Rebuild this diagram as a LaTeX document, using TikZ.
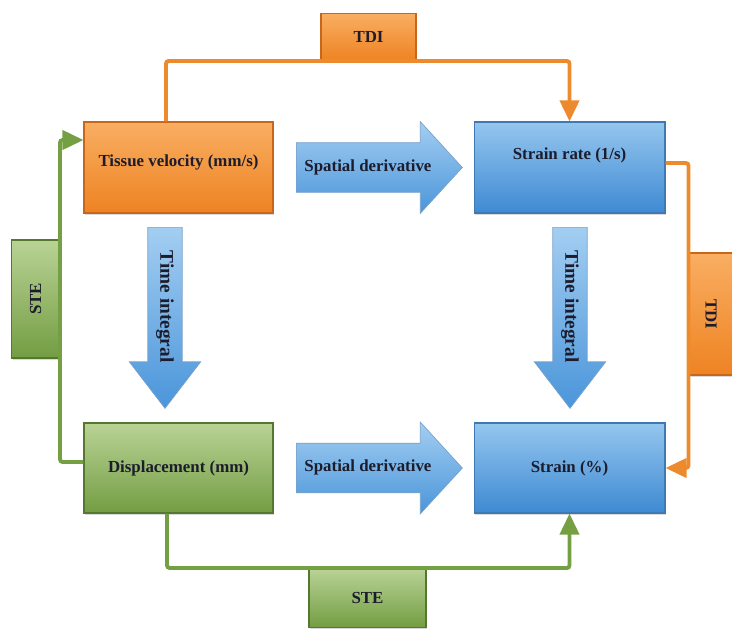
\documentclass[tikz,border=0pt]{standalone}
\usepackage{fontspec}
\setmainfont{Liberation Serif}
\usetikzlibrary{shapes.arrows,shadows,arrows.meta}

\definecolor{orangetop}{HTML}{F9AE62}
\definecolor{orangebot}{HTML}{EE8322}
\definecolor{orangedraw}{HTML}{C8661C}
\definecolor{bluetop}{HTML}{95C6EE}
\definecolor{bluebot}{HTML}{3E8AD3}
\definecolor{bluedraw}{HTML}{3F79B3}
\definecolor{greentop}{HTML}{B9D395}
\definecolor{greenbot}{HTML}{739D43}
\definecolor{greendraw}{HTML}{55772F}
\definecolor{arrowtop}{HTML}{A3CEF2}
\definecolor{arrowbot}{HTML}{4A95DA}
\definecolor{tdiorange}{HTML}{EE8A2E}
\definecolor{stegreen}{HTML}{74A043}
\definecolor{inkdark}{HTML}{1C1C2C}

\tikzset{
  box/.style={draw, line width=0.6pt, minimum width=3.78cm, minimum height=1.82cm, inner sep=2pt,
    drop shadow={shadow xshift=0.8pt, shadow yshift=-1pt, opacity=0.3}},
  orangebox/.style={box, draw=orangedraw, top color=orangetop, bottom color=orangebot},
  bluebox/.style={box, draw=bluedraw, top color=bluetop, bottom color=bluebot},
  greenbox/.style={box, draw=greendraw, top color=greentop, bottom color=greenbot},
  bigarrow/.style={single arrow, draw=bluedraw!70, line width=0.4pt, top color=arrowtop, bottom color=arrowbot,
    text height=6.5pt, text depth=2pt, inner xsep=2pt},
  downarrow/.style={bigarrow, rotate=-90, anchor=tail, minimum height=3.62cm,
    text height=7.8pt, text depth=2.6pt, inner ysep=4.4pt,
    single arrow head extend=0.37cm, single arrow tip angle=75, font=\fontsize{11}{12}\selectfont\bfseries},
  tdiline/.style={draw=tdiorange, line width=2.2pt, rounded corners=1.5pt, -{Triangle[length=0.42cm,width=0.38cm]}},
  steline/.style={draw=stegreen, line width=2.2pt, rounded corners=1.5pt, -{Triangle[length=0.42cm,width=0.38cm]}}
}

\begin{document}
\begin{tikzpicture}[x=0.02cm, y=-0.02cm, font=\fontsize{9.6}{11}\selectfont\bfseries, text=inkdark]
  \useasboundingbox (0,0) rectangle (732,628);

  % quantities
  \node[orangebox, text height=6.5pt, text depth=8pt] (tv) at (178.5,167.5) {Tissue velocity (mm/s)};
  \node[bluebox, minimum width=3.82cm, text height=6.5pt, text depth=16pt] (sr) at (569.5,167.5) {Strain rate (1/s)};
  \node[greenbox, minimum height=1.8cm] (disp) at (178.5,468) {Displacement (mm)};
  \node[bluebox, minimum width=3.82cm, minimum height=1.8cm] (strain) at (569.5,468) {Strain (\%)};

  % operations
  \node[bigarrow, anchor=tail, minimum height=3.32cm, inner ysep=0.34cm,
    single arrow head extend=0.42cm, single arrow tip angle=95] (sd1) at (296,167.5) {Spatial derivative};
  \node[bigarrow, anchor=tail, minimum height=3.32cm, inner ysep=0.34cm,
    single arrow head extend=0.42cm, single arrow tip angle=95] (sd2) at (296,468) {Spatial derivative};
  \node[downarrow] (ti1) at (165,227) {Time integral};
  \node[downarrow] (ti2) at (570,227) {Time integral};

  % methods
  \node[orangebox, minimum width=1.9cm, minimum height=0.94cm, anchor=south] (tdi1) at (368.5,61) {TDI};
  \node[orangebox, rotate=-90, minimum width=2.44cm, minimum height=0.88cm] (tdi2) at (711,314) {TDI};
  \node[greenbox, rotate=90, minimum width=2.36cm, minimum height=0.96cm] (ste1) at (35.5,299) {STE};
  \node[greenbox, minimum width=2.34cm, minimum height=1.18cm, anchor=north] (ste2) at (367.5,568) {STE};

  % TDI paths
  \draw[tdiline] ([xshift=-0.25cm]tv.north) |- (tdi1.south) -| (sr.north);
  \draw[tdiline] ([yshift=0.09cm]sr.east) -| (tdi2.south) |- (strain.east);

  % STE paths
  \draw[steline] ([yshift=0.12cm]disp.west) -| (ste1.south) |- ([yshift=0.55cm]tv.west);
  \draw[steline] ([xshift=-0.23cm]disp.south) |- (ste2.north) -| (strain.south);
\end{tikzpicture}
\end{document}
